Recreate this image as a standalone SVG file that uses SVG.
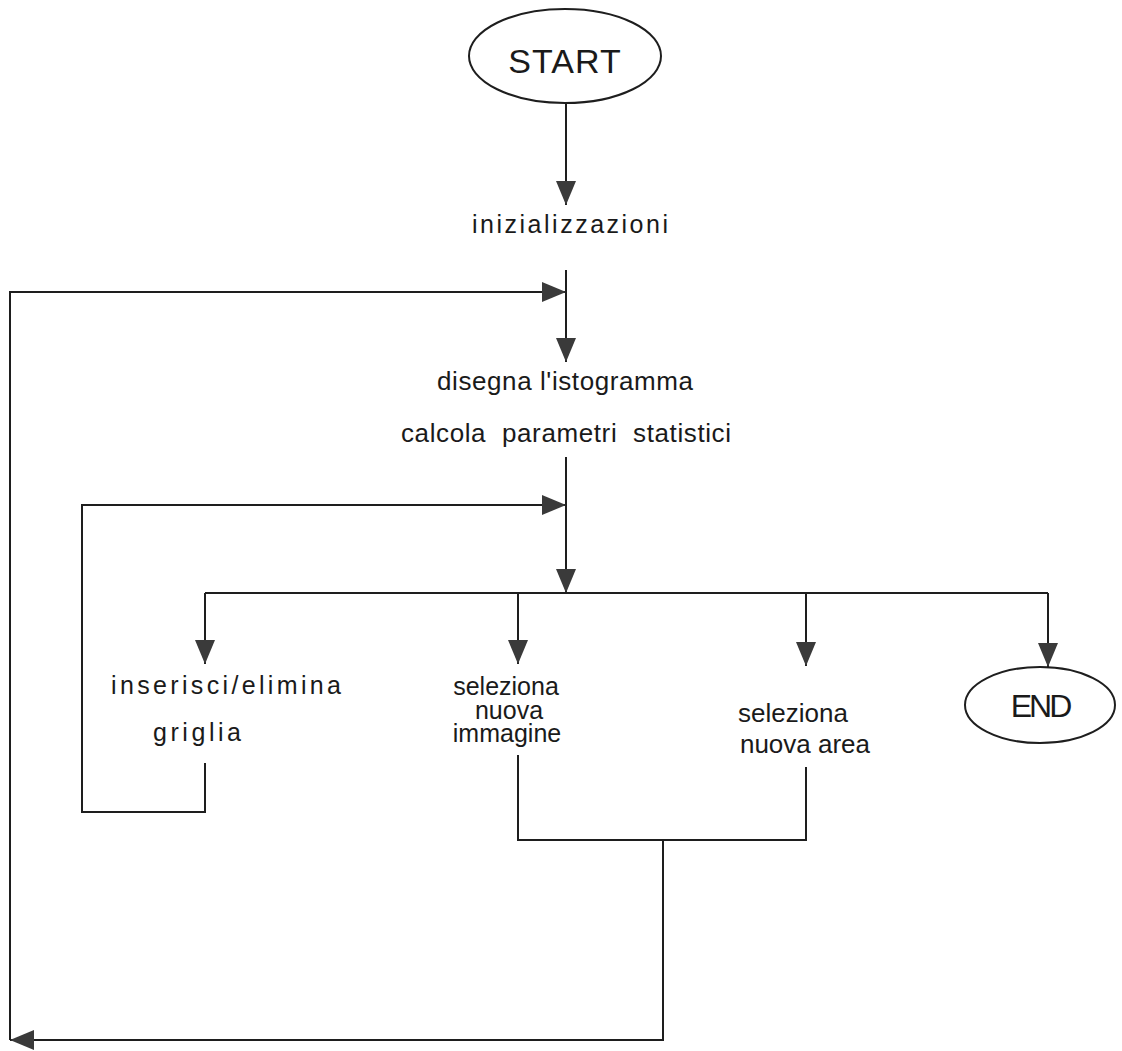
<svg xmlns="http://www.w3.org/2000/svg" width="1122" height="1051" viewBox="0 0 1122 1051">
  <style>
    .line { fill: none; stroke: #1e1e1e; stroke-width: 2; }
    .term { fill: #ffffff; stroke: #1e1e1e; stroke-width: 2; }
    .lbl { font-family: "Liberation Sans", Arial, sans-serif; fill: #1a1a1a; text-anchor: middle; }
  </style>
  <defs>
    <marker id="arrow" markerUnits="userSpaceOnUse" markerWidth="26" markerHeight="22" refX="24" refY="10" orient="auto">
      <path d="M0,0 L24,10 L0,20 Z" fill="#3a3a3a"/>
    </marker>
  </defs>

  <rect width="1122" height="1051" fill="#ffffff"/>

  <!-- connectors -->
  <g id="connectors">
    <path class="line" d="M566,103 V205" marker-end="url(#arrow)"/>
    <path class="line" d="M566,270 V362" marker-end="url(#arrow)"/>
    <path class="line" d="M566,457 V593" marker-end="url(#arrow)"/>
    <!-- outer loop back to the histogram -->
    <path class="line" d="M663,840 V1040 H10" marker-end="url(#arrow)"/>
    <path class="line" d="M10,1040 V292 H566" marker-end="url(#arrow)"/>
    <!-- inner loop from the grid step -->
    <path class="line" d="M205,763 V812 H82 V505 H566" marker-end="url(#arrow)"/>
    <!-- branch bar -->
    <path class="line" d="M205,593 H1048"/>
    <path class="line" d="M205,593 V664" marker-end="url(#arrow)"/>
    <path class="line" d="M518,593 V664" marker-end="url(#arrow)"/>
    <path class="line" d="M806,593 V666" marker-end="url(#arrow)"/>
    <path class="line" d="M1048,593 V667" marker-end="url(#arrow)"/>
    <!-- join of the two selection steps -->
    <path class="line" d="M518,755 V840 H806 V767"/>
  </g>

  <g id="start">
    <ellipse class="term" cx="565" cy="56" rx="96" ry="47"/>
    <text class="lbl" x="565" y="73" font-size="34" letter-spacing="1">START</text>
  </g>

  <g id="init">
    <text class="lbl" x="570" y="233" font-size="25" textLength="196" lengthAdjust="spacing">inizializzazioni</text>
  </g>

  <g id="histogram">
    <text class="lbl" x="565" y="390" font-size="26" textLength="256" lengthAdjust="spacing">disegna l'istogramma</text>
    <text class="lbl" x="566" y="442" font-size="26" textLength="330" lengthAdjust="spacing" word-spacing="8">calcola parametri statistici</text>
  </g>

  <g id="grid">
    <text class="lbl" x="226" y="694" font-size="25" textLength="230" lengthAdjust="spacing">inserisci/elimina</text>
    <text class="lbl" x="197" y="741" font-size="25" textLength="88" lengthAdjust="spacing">griglia</text>
  </g>

  <g id="new-image">
    <text class="lbl" x="506" y="695" font-size="25">seleziona</text>
    <text class="lbl" x="509" y="719" font-size="25">nuova</text>
    <text class="lbl" x="507" y="742" font-size="25">immagine</text>
  </g>

  <g id="new-area">
    <text class="lbl" x="793" y="722" font-size="26">seleziona</text>
    <text class="lbl" x="805" y="753" font-size="26">nuova area</text>
  </g>

  <g id="end">
    <ellipse class="term" cx="1040" cy="705" rx="75" ry="38"/>
    <text class="lbl" x="1040" y="717" font-size="32" letter-spacing="-3">END</text>
  </g>
</svg>
